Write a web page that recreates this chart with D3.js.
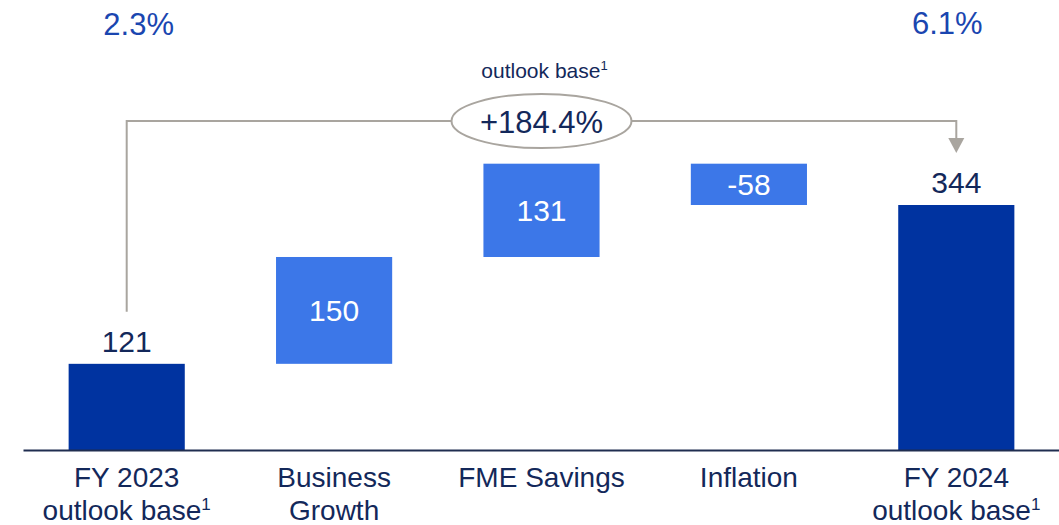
<!DOCTYPE html>
<html>
<head>
<meta charset="utf-8">
<script src="https://cdn.jsdelivr.net/npm/d3@7"></script>
<style>
  body { margin: 0; background: #fff; }
  text { font-family: "Liberation Sans", Arial, sans-serif; }
</style>
</head>
<body>
<div id="chart"></div>
<script>
// chart data
const categories = ["FY 2023", "Business Growth", "FME Savings", "Inflation", "FY 2024"];
const labelLines = [["FY 2023", "outlook base"], ["Business", "Growth"], ["FME Savings"], ["Inflation"], ["FY 2024", "outlook base"]];
const labelSuper = [true, false, false, false, true];
const values = [121, 150, 131, -58, 344];
const kinds = ["total", "delta", "delta", "delta", "total"];
const marginPcts = ["2.3%", "6.1%"];
const growthLabel = "+184.4%";
const growthCaption = "outlook base";

const width = 1059, height = 525;
const darkBlue = "#0033a0", lightBlue = "#3c77e8", textCol = "#13285a",
      pctCol = "#1a46b0", grey = "#a9a59f";

const svg = d3.select("#chart")
  .append("svg")
  .attr("width", width)
  .attr("height", height);

// waterfall start / end
let run = 0;
const bars = values.map(function (v, i) {
  let y0, y1;
  if (kinds[i] === "total") { y0 = 0; y1 = v; run = v; }
  else { y0 = run; y1 = run + v; run = y1; }
  return {cat: categories[i], value: v, kind: kinds[i], y0: y0, y1: y1};
});

const x = d3.scaleBand()
  .domain(categories)
  .range([23, 1060])
  .paddingInner(0.44)
  .paddingOuter(0.22);

const y = d3.scaleLinear()
  .domain([0, 344])
  .range([450, 205]);

// bars
svg.append("g")
  .selectAll("rect")
  .data(bars)
  .join("rect")
    .attr("x", d => x(d.cat))
    .attr("width", x.bandwidth())
    .attr("y", d => y(Math.max(d.y0, d.y1)))
    .attr("height", d => Math.abs(y(d.y0) - y(d.y1)))
    .style("fill", d => d.kind === "total" ? darkBlue : lightBlue);

// value labels
svg.append("g")
  .selectAll("text")
  .data(bars)
  .join("text")
    .attr("x", d => x(d.cat) + x.bandwidth() / 2)
    .attr("y", d => d.kind === "total" ? y(d.y1) - 12 : (y(d.y0) + y(d.y1)) / 2)
    .attr("dy", d => d.kind === "total" ? 0 : "0.35em")
    .attr("text-anchor", "middle")
    .style("font-size", "30px")
    .style("fill", d => d.kind === "total" ? textCol : "#fff")
    .text(d => d.value);

// x axis
const xAxis = svg.append("g")
  .attr("transform", `translate(0, ${y(0)})`)
  .call(d3.axisBottom(x).tickSize(0).tickSizeOuter(0));
xAxis.selectAll("text").remove();
xAxis.select(".domain").attr("stroke", "#1f2d50").attr("stroke-width", 2);

const labels = svg.append("g")
  .selectAll("text")
  .data(categories)
  .join("text")
    .attr("x", d => x(d) + x.bandwidth() / 2)
    .attr("y", 487)
    .attr("text-anchor", "middle")
    .style("font-size", "28px")
    .style("fill", textCol);

labels.each(function (d, i) {
  const t = d3.select(this);
  labelLines[i].forEach(function (line, j) {
    t.append("tspan")
      .attr("x", x(d) + x.bandwidth() / 2)
      .attr("dy", j === 0 ? 0 : 33)
      .text(line);
    if (j === labelLines[i].length - 1 && labelSuper[i]) {
      t.append("tspan")
        .attr("dy", -10)
        .style("font-size", "17px")
        .text("1");
    }
  });
});

// margin percentages
const first = categories[0], last = categories[categories.length - 1];
svg.append("text")
  .attr("x", x(first) + x.bandwidth() / 2 + 12)
  .attr("y", 35)
  .attr("text-anchor", "middle")
  .style("font-size", "31px")
  .style("fill", pctCol)
  .text(marginPcts[0]);
svg.append("text")
  .attr("x", x(last) + x.bandwidth() / 2 - 9)
  .attr("y", 34)
  .attr("text-anchor", "middle")
  .style("font-size", "31px")
  .style("fill", pctCol)
  .text(marginPcts[1]);

// growth bracket
const xa = x(first) + x.bandwidth() / 2,
      xb = x(last) + x.bandwidth() / 2,
      topY = 121,
      tipY = y(bars[4].y1) - 52;
svg.append("path")
  .attr("d", `M${xa},${y(bars[0].y1) - 52}V${topY}H${xb}V${tipY - 14}`)
  .attr("fill", "none")
  .attr("stroke", grey)
  .attr("stroke-width", 2);
svg.append("path")
  .attr("d", `M${xb - 8},${tipY - 15}L${xb + 8},${tipY - 15}L${xb},${tipY}Z`)
  .attr("fill", grey);

const cx = x(categories[2]) + x.bandwidth() / 2;
svg.append("ellipse")
  .attr("cx", cx)
  .attr("cy", topY)
  .attr("rx", 90)
  .attr("ry", 27)
  .attr("fill", "#fff")
  .attr("stroke", grey)
  .attr("stroke-width", 2);
svg.append("text")
  .attr("x", cx)
  .attr("y", 133)
  .attr("text-anchor", "middle")
  .style("font-size", "31px")
  .style("fill", textCol)
  .text(growthLabel);
const cap = svg.append("text")
  .attr("x", cx + 3)
  .attr("y", 78)
  .attr("text-anchor", "middle")
  .style("font-size", "21px")
  .style("fill", textCol)
  .text(growthCaption);
cap.append("tspan")
  .attr("dy", -8)
  .style("font-size", "13px")
  .text("1");
</script>
</body>
</html>
